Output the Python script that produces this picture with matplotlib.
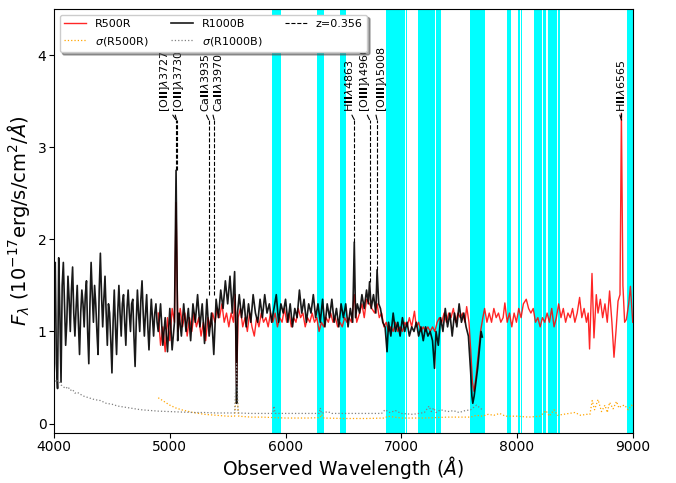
import numpy as np
import matplotlib.pyplot as plt

z = 0.356

# R1000B spectrum (observed wavelength, flux)
wave_b = [4000, 4010, 4020, 4030, 4040, 4050, 4060, 4070, 4080, 4090, 4100, 4110, 4120, 4130, 4140,
          4150, 4160, 4170, 4180, 4190, 4200, 4210, 4220, 4230, 4240, 4250, 4260, 4270, 4280, 4290,
          4300, 4310, 4320, 4330, 4340, 4350, 4360, 4370, 4380, 4390, 4400, 4410, 4420, 4430, 4440,
          4450, 4460, 4470, 4480, 4490, 4500, 4510, 4520, 4530, 4540, 4550, 4560, 4570, 4580, 4590,
          4600, 4610, 4620, 4630, 4640, 4650, 4660, 4670, 4680, 4690, 4700, 4710, 4720, 4730, 4740,
          4750, 4760, 4770, 4780, 4790, 4800, 4810, 4820, 4830, 4840, 4850, 4860, 4870, 4880, 4890,
          4900, 4920, 4940, 4960, 4980, 5000, 5020, 5040, 5054, 5068, 5080, 5100, 5120, 5140, 5160,
          5180, 5200, 5220, 5240, 5260, 5280, 5300, 5320, 5340, 5360, 5380, 5400, 5420, 5440, 5460,
          5480, 5500, 5520, 5540, 5560, 5570, 5577, 5585, 5600, 5620, 5640, 5660, 5680, 5700, 5720,
          5740, 5760, 5780, 5800, 5820, 5840, 5860, 5880, 5900, 5920, 5940, 5960, 5980, 6000, 6020,
          6040, 6060, 6080, 6100, 6120, 6140, 6160, 6180, 6200, 6220, 6240, 6260, 6280, 6300, 6320,
          6340, 6360, 6380, 6400, 6420, 6440, 6460, 6480, 6500, 6520, 6540, 6560, 6580, 6594, 6605,
          6620, 6640, 6660, 6680, 6700, 6715, 6726, 6740, 6760, 6780, 6791, 6805, 6820, 6840, 6860,
          6877, 6890, 6910, 6930, 6950, 6970, 6990, 7010, 7030, 7050, 7070, 7090, 7110, 7130, 7150,
          7170, 7190, 7210, 7230, 7250, 7270, 7287, 7300, 7320, 7340, 7360, 7380, 7400, 7420, 7440,
          7460, 7480, 7500, 7520, 7540, 7560, 7580, 7600, 7610, 7618, 7630, 7645, 7660, 7675, 7690,
          7700]
flux_b = [1.45, 1.75, 0.65, 0.38, 1.8, 1.2, 0.45, 1.5, 1.75, 1.3, 0.85, 1.1, 1.6, 1.35, 1.0,
          1.45, 1.7, 1.2, 0.95, 1.25, 1.5, 1.1, 0.75, 1.2, 1.45, 1.3, 1.05, 1.4, 1.55, 1.0,
          0.65, 1.3, 1.75, 1.4, 1.1, 1.5, 1.3, 1.0, 0.75, 1.45, 1.85, 1.4, 1.05, 1.35, 1.6,
          1.2, 0.85, 1.3, 1.2, 0.9, 0.55, 1.1, 1.45, 1.05, 0.75, 1.2, 1.5, 1.2, 0.95, 1.3,
          1.4, 1.1, 0.85, 1.25, 1.45, 1.2, 1.0, 1.3, 1.35, 0.95, 0.62, 1.1, 1.45, 1.2, 1.0,
          1.35, 1.55, 1.2, 0.95, 1.2, 1.4, 1.05, 0.8, 1.1, 1.35, 1.15, 0.95, 1.2, 1.3, 1.1,
          1.0, 1.3, 0.85, 1.15, 0.78, 1.25, 0.8, 1.1, 2.75, 0.9, 1.2, 0.95, 1.3, 1.0, 1.25,
          0.9, 1.3, 1.1, 1.4, 1.05, 1.3, 0.87, 1.35, 0.95, 1.2, 0.75, 1.35, 1.15, 1.45, 1.25,
          1.55, 1.3, 1.6, 1.2, 1.65, 1.0, 0.22, 1.2, 1.4, 1.15, 1.35, 1.05, 1.3, 1.1, 1.4,
          1.2, 1.1, 1.35, 1.15, 1.4, 1.2, 1.3, 1.1, 1.25, 1.4, 1.1, 1.3, 1.2, 1.35, 1.1,
          1.3, 1.05, 1.25, 1.15, 1.45, 1.2, 1.35, 1.1, 1.3, 1.2, 1.4, 1.15, 1.3, 1.1, 1.35,
          1.05, 1.3, 1.15, 1.35, 1.1, 1.25, 1.05, 1.3, 1.15, 1.3, 1.05, 1.25, 1.1, 1.97, 1.15,
          1.3, 1.2, 1.4, 1.25, 1.45, 1.3, 1.54, 1.25, 1.4, 1.2, 1.67, 1.3, 1.25, 1.1, 1.05,
          0.78, 1.1, 0.95, 1.2, 1.0, 1.1, 0.95, 1.15, 1.0, 1.1, 0.95, 1.05, 1.0, 1.1, 0.95,
          1.05, 0.9, 1.05, 0.95, 1.0, 0.9, 0.6, 1.0, 0.85, 1.15, 1.0, 1.25, 1.05, 1.2, 0.95,
          1.2, 1.05, 1.3, 1.1, 1.2, 1.05, 0.95, 0.55, 0.3, 0.22, 0.3, 0.45, 0.6, 0.8, 1.0,
          0.94]

# R500R spectrum
wave_r = [4900, 4920, 4940, 4960, 4980, 5000, 5020, 5040, 5054, 5070, 5090, 5110, 5130, 5150, 5170,
          5190, 5210, 5230, 5250, 5270, 5290, 5310, 5330, 5350, 5370, 5390, 5410, 5430, 5450, 5470,
          5490, 5510, 5530, 5550, 5565, 5577, 5590, 5610, 5630, 5650, 5670, 5690, 5710, 5730, 5750,
          5770, 5790, 5810, 5830, 5850, 5870, 5890, 5910, 5930, 5950, 5970, 5990, 6010, 6030, 6050,
          6070, 6090, 6110, 6130, 6150, 6170, 6190, 6210, 6230, 6250, 6270, 6290, 6310, 6330, 6350,
          6370, 6390, 6410, 6430, 6450, 6470, 6490, 6510, 6530, 6550, 6570, 6594, 6615, 6640, 6660,
          6680, 6700, 6726, 6745, 6770, 6791, 6810, 6830, 6850, 6870, 6890, 6910, 6930, 6950, 6970,
          6990, 7010, 7030, 7050, 7070, 7090, 7114, 7130, 7150, 7170, 7190, 7210, 7230, 7250, 7270,
          7290, 7310, 7330, 7350, 7370, 7390, 7410, 7430, 7450, 7470, 7490, 7510, 7530, 7550, 7565,
          7585, 7600, 7615, 7628, 7645, 7665, 7685, 7705, 7720, 7740, 7760, 7780, 7800, 7820, 7840,
          7860, 7880, 7895, 7915, 7935, 7955, 7975, 7995, 8015, 8035, 8055, 8080, 8100, 8120, 8140,
          8160, 8180, 8200, 8220, 8240, 8260, 8280, 8300, 8320, 8340, 8360, 8380, 8400, 8420, 8440,
          8460, 8480, 8500, 8520, 8541, 8560, 8580, 8600, 8615, 8627, 8648, 8665, 8685, 8700, 8720,
          8740, 8760, 8780, 8800, 8820, 8838, 8855, 8873, 8890, 8902, 8915, 8930, 8945, 8965, 8980,
          9000]
flux_r = [1.2, 0.85, 1.05, 0.78, 1.15, 0.9, 1.25, 1.1, 2.4, 1.0, 1.25, 1.05, 1.2, 0.95, 1.15,
          1.0, 1.2, 1.05, 1.15, 0.95, 1.1, 0.9, 1.15, 1.05, 1.2, 1.1, 1.25, 1.15, 1.3, 1.1,
          1.2, 1.05, 1.2, 1.1, 1.4, 0.4, 1.15, 1.25, 1.05, 1.15, 1.0, 1.2, 1.05, 0.95, 1.15,
          1.05, 1.2, 1.1, 1.15, 1.05, 1.2, 1.1, 1.2, 1.05, 1.15, 1.1, 1.25, 1.1, 1.2, 1.05,
          1.15, 1.1, 1.25, 1.15, 1.2, 1.05, 1.15, 1.1, 1.2, 1.1, 1.15, 1.0, 1.1, 1.05, 1.15,
          1.1, 1.2, 1.1, 1.15, 1.05, 1.1, 1.05, 1.15, 1.1, 1.15, 1.1, 1.4, 1.1, 1.2, 1.3,
          1.15, 1.35, 1.3, 1.25, 1.2, 1.3, 1.15, 1.2, 1.05, 1.1, 1.0, 1.05, 1.0, 1.1, 1.0,
          1.05, 1.0, 1.1, 1.05, 1.15, 1.05, 1.22, 1.05, 1.1, 1.0, 1.05, 1.0, 1.05, 1.0, 1.05,
          1.0, 1.1, 1.15, 1.1, 1.2, 1.1, 1.2, 1.15, 1.25, 1.1, 1.2, 1.15, 1.2, 1.1, 1.27,
          1.1, 0.8, 0.45, 0.35, 0.5, 0.75, 1.0, 1.15, 1.25, 1.1, 1.2, 1.1, 1.25, 1.15, 1.2,
          1.1, 1.15, 1.31, 1.1, 1.2, 1.05, 1.2, 1.1, 1.25, 1.15, 1.3, 1.35, 1.25, 1.2, 1.25,
          1.1, 1.15, 1.05, 1.15, 1.1, 1.2, 1.1, 1.25, 1.05, 1.15, 1.3, 1.15, 1.25, 1.1, 1.2,
          1.15, 1.25, 1.1, 1.2, 1.37, 1.15, 1.25, 1.1, 1.2, 0.81, 1.63, 0.93, 1.4, 1.2, 1.35,
          1.15, 1.3, 1.1, 1.44, 1.1, 0.72, 1.0, 1.33, 1.4, 3.37, 1.5, 1.1, 1.13, 1.3, 1.49,
          1.1]

# error spectra
wave_eb = [4000, 4020, 4040, 4060, 4080, 4100, 4120, 4140, 4160, 4180, 4200, 4250, 4300, 4350, 4400,
           4450, 4500, 4550, 4600, 4650, 4700, 4750, 4800, 4850, 4900, 5000, 5100, 5200, 5300, 5400,
           5500, 5560, 5577, 5590, 5700, 5800, 5890, 5900, 5910, 6000, 6100, 6200, 6290, 6300, 6310,
           6365, 6400, 6500, 6600, 6700, 6830, 6860, 6900, 6950, 7000, 7100, 7200, 7240, 7260, 7280,
           7300, 7340, 7400, 7450, 7500, 7550, 7600, 7650, 7700]
err_b = [0.5, 0.45, 0.47, 0.42, 0.4, 0.38, 0.4, 0.36, 0.37, 0.33, 0.34, 0.3, 0.28, 0.26, 0.25,
         0.22, 0.21, 0.19, 0.18, 0.17, 0.16, 0.15, 0.145, 0.14, 0.135, 0.13, 0.125, 0.12, 0.12, 0.115,
         0.115, 0.115, 0.65, 0.115, 0.11, 0.11, 0.11, 0.19, 0.11, 0.11, 0.11, 0.11, 0.11, 0.17, 0.11,
         0.13, 0.11, 0.11, 0.11, 0.11, 0.11, 0.15, 0.12, 0.14, 0.11, 0.1, 0.12, 0.19, 0.13, 0.17,
         0.12, 0.15, 0.13, 0.14, 0.12, 0.14, 0.15, 0.2, 0.15]

wave_er = [4900, 4950, 5000, 5050, 5100, 5200, 5300, 5400, 5500, 5560, 5577, 5595, 5700, 5800, 5900,
           6000, 6200, 6300, 6310, 6330, 6500, 6700, 6860, 6880, 7000, 7200, 7300, 7400, 7600, 7650,
           7700, 7750, 7800, 7850, 7900, 8000, 8100, 8200, 8250, 8280, 8320, 8350, 8400, 8500, 8550,
           8600, 8630, 8650, 8670, 8700, 8730, 8760, 8780, 8800, 8830, 8860, 8880, 8900, 8930, 8960,
           8990, 9000]
err_r = [0.28, 0.24, 0.2, 0.17, 0.15, 0.12, 0.1, 0.09, 0.08, 0.08, 0.35, 0.08, 0.07, 0.07, 0.065,
         0.06, 0.06, 0.065, 0.1, 0.06, 0.055, 0.055, 0.06, 0.08, 0.06, 0.06, 0.065, 0.07, 0.07, 0.09,
         0.08, 0.1, 0.09, 0.11, 0.08, 0.08, 0.07, 0.08, 0.14, 0.08, 0.15, 0.09, 0.1, 0.12, 0.09,
         0.1, 0.1, 0.25, 0.15, 0.26, 0.13, 0.2, 0.12, 0.23, 0.16, 0.24, 0.17, 0.19, 0.2, 0.15,
         0.2, 0.18]

# telluric / sky regions masked
sky_lo = [5886, 6275, 6474, 6870, 6984, 7040, 7148, 7296, 7598, 7910, 8012, 8035, 8143, 8224, 8264, 8356, 8948]
sky_hi = [5964, 6336, 6526, 6978, 7036, 7050, 7288, 7343, 7720, 7944, 8028, 8047, 8216, 8254, 8345, 8368, 9000]

# emission / absorption lines (rest frame)
line_names = [r'[O$\mathbf{II}$]$\lambda$3727', r'[O$\mathbf{II}$]$\lambda$3730',
              r'Ca$\mathbf{II}$$\lambda$3935', r'Ca$\mathbf{II}$$\lambda$3970',
              r'H$\mathbf{II}$$\lambda$4863', r'[O$\mathbf{III}$]$\lambda$4960',
              r'[O$\mathbf{III}$]$\lambda$5008', r'H$\mathbf{II}$$\lambda$6565']
line_rest = [3727, 3730, 3935, 3970, 4863, 4960, 5008, 6565]
line_label_x = [4958, 5082, 5304, 5414, 6550, 6686, 6830, 8902]
line_bottom = [2.75, 2.75, 1.4, 1.4, 1.97, 1.54, 1.67, 3.37]

fig = plt.figure(figsize=(6.76, 4.83), dpi=100)
ax = fig.add_axes([0.08, 0.104, 0.856, 0.877])

for lo, hi in zip(sky_lo, sky_hi):
    ax.axvspan(lo, hi, color='cyan', lw=0, zorder=0)

ax.plot(wave_r, flux_r, 'r', lw=1, alpha=0.85, label='R500R')
ax.plot(wave_er, err_r, color='orange', ls=':', lw=0.9, label=r'$\sigma$(R500R)')
ax.plot(wave_b, flux_b, 'k', lw=1.2, alpha=0.9, label='R1000B')
ax.plot(wave_eb, err_b, color='gray', ls=':', lw=0.9, label=r'$\sigma$(R1000B)')

y_top = 3.3
y_text = 3.38
for i in range(len(line_rest)):
    x_obs = line_rest[i] * (1 + z)
    lab = 'z=%.3f' % z if i == 0 else None
    ax.plot([x_obs, x_obs], [line_bottom[i], y_top], 'k--', lw=0.8, label=lab)
    ax.annotate(line_names[i], xy=(x_obs, y_top), xytext=(line_label_x[i], y_text),
                rotation=90, ha='center', va='bottom', fontsize=8,
                arrowprops=dict(arrowstyle='-', lw=0.8, color='k', shrinkA=0, shrinkB=0,
                                connectionstyle='arc3,rad=0.2'))

ax.set_xlim(4000, 9000)
ax.set_ylim(-0.1, 4.5)
ax.set_yticks([0, 1, 2, 3, 4])
ax.tick_params(labelsize=10, pad=2)
ax.set_xlabel(r'Observed Wavelength ($\AA$)', fontsize=13.5, labelpad=0)
ax.set_ylabel(r'$F_\lambda$ (10$^{-17}$erg/s/cm$^2$/$\AA$)', fontsize=14)
ax.legend(loc='upper left', ncol=3, fontsize=8, shadow=True, framealpha=1)

plt.savefig('out.png', dpi=100)
